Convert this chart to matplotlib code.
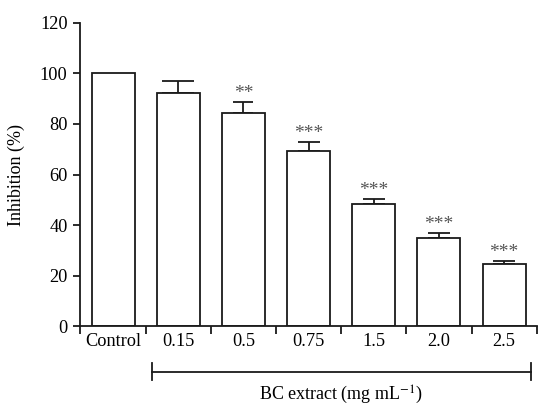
import matplotlib
matplotlib.use("Agg")
import matplotlib.pyplot as plt
import matplotlib.transforms as mtransforms
import numpy as np

# data
groups = ["Control", "0.15", "0.5", "0.75", "1.5", "2.0", "2.5"]
inhibition = [100.0, 92.4, 84.5, 69.2, 48.2, 35.1, 24.6]
err_up = [0.0, 4.4, 4.1, 3.6, 2.3, 1.7, 1.3]
stars = ["", "", "**", "***", "***", "***", "***"]
caps = [0, 11.5, 7.5, 7.7, 7.8, 7.8, 7.8]

plt.rcParams['font.family'] = ['Liberation Serif', 'DejaVu Serif']
plt.rcParams['mathtext.fontset'] = 'stix'

fig = plt.figure(figsize=(5.38, 4.07), dpi=100)
ax = fig.add_axes([0.1496, 0.198, 0.848, 0.746])

x = np.arange(len(groups))
ec = "#1a1a1a"
ax.bar(x, inhibition, width=0.66, color="white", edgecolor=ec, linewidth=1.3, zorder=2)

for i in range(len(groups)):
    if err_up[i] > 0:
        ax.errorbar(x[i], inhibition[i], yerr=[[0], [err_up[i]]], fmt="none",
                    ecolor=ec, elinewidth=1.3, capsize=caps[i], capthick=1.3, zorder=1)
    if stars[i]:
        ax.annotate(stars[i], (x[i], inhibition[i] + err_up[i]), xytext=(0, 0),
                    textcoords="offset points", ha="center", va="bottom",
                    fontsize=14, color="#555555")

ax.set_xlim(-0.5, len(groups) - 0.5)
ax.set_ylim(0, 120)
ax.set_yticks(np.arange(0, 121, 20))
ax.set_xticks(x)
ax.set_xticklabels(groups)
ax.set_xticks(np.arange(-0.5, len(groups), 1.0), minor=True)
ax.tick_params(axis="x", which="major", length=0, pad=5, labelsize=13.2)
ax.tick_params(axis="x", which="minor", length=5.5, width=1.3, color=ec)
ax.tick_params(axis="y", length=5.3, width=1.3, color=ec, pad=4, labelsize=13.2)

for s in ["top", "right"]:
    ax.spines[s].set_visible(False)
for s in ["left", "bottom"]:
    ax.spines[s].set_linewidth(1.3)
    ax.spines[s].set_color(ec)

# bracket under the treated groups
trans = mtransforms.blended_transform_factory(ax.transData, ax.transAxes)
bx0, bx1, by = 0.59, 6.42, -0.1495
ax.plot([bx0, bx1], [by, by], color=ec, lw=1.3, transform=trans, clip_on=False)
for bx in (bx0, bx1):
    ax.plot([bx, bx], [by - 0.028, by + 0.028], color=ec, lw=1.3,
            transform=trans, clip_on=False)

ax.text(3.5, -0.224, r"BC extract (mg mL$^{-1}$)", transform=trans,
        ha="center", va="center", fontsize=13)
ax.set_ylabel("Inhibition (%)", fontsize=13)
ax.yaxis.set_label_coords(-0.122, 0.5)

fig.savefig("out.png", dpi=100)
